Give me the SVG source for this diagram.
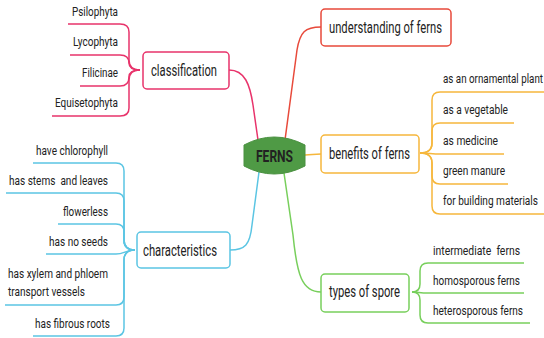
<svg xmlns="http://www.w3.org/2000/svg" width="544" height="338" viewBox="0 0 544 338">
<style>
text{font-family:Roboto,"Liberation Sans",sans-serif;fill:#222}
.n{font-size:16px;text-anchor:middle}
.l{font-size:13.5px}
.r{text-anchor:end}
.box{fill:#fff;stroke-width:1.5}
.c{fill:none;stroke-width:1.5}
.pk{stroke:#e8336b}.rd{stroke:#e84a3b}.or{stroke:#f6b73c}.bl{stroke:#5bc5e3}.gr{stroke:#78cf5c}
</style>
<rect width="544" height="338" fill="#fff"/>
<g id="connectors">
<path class="c pk" d="M229 70 C245 70 250 85 253 105 L258 140"/>
<path class="c rd" d="M285 140 L297 50 C300 32 305 27 321 27"/>
<path class="c or" d="M305 155 C312 155 313 154 321 154"/>
<path class="c bl" d="M230 250 C245 250 250 245 252 225 L259 172"/>
<path class="c gr" d="M284 173 L293 235 C297 275 302 292 321 292"/>
<path class="c pk" d="M140 70 Q129 70 129 60 V32 Q129 24 120 24 H68"/>
<path class="c pk" d="M140 70 Q129 70 129 63 Q129 55 120 55 H70"/>
<path class="c pk" d="M140 70 Q129 70 129 77 Q129 86 120 86 H80"/>
<path class="c pk" d="M140 70 Q129 70 129 80 V108 Q129 116 120 116 H52"/>
<path class="c or" d="M420 153 Q432 153 432 143 V100 Q432 92 440 92 H544"/>
<path class="c or" d="M420 153 Q432 153 432 143 V131 Q432 123 440 123 H514"/>
<path class="c or" d="M420 153 C428 153 432 154 440 154 H504"/>
<path class="c or" d="M420 153 Q432 153 432 163 V176 Q432 184 440 184 H508"/>
<path class="c or" d="M420 153 Q432 153 432 163 V206 Q432 214 440 214 H544"/>
<path class="c bl" d="M135 250 Q124 250 124 240 V171 Q124 163 116 163 H33"/>
<path class="c bl" d="M135 250 Q124 250 124 240 V201 Q124 193 116 193 H6"/>
<path class="c bl" d="M135 250 Q124 250 124 240 V232 Q124 224 116 224 H58"/>
<path class="c bl" d="M135 250 C126 250 124 254 116 254 H46"/>
<path class="c bl" d="M135 250 Q124 250 124 260 V297 Q124 305 116 305 H5"/>
<path class="c bl" d="M135 250 Q124 250 124 260 V328 Q124 336 116 336 H33"/>
<path class="c gr" d="M412 292 Q420 292 420 284 V271 Q420 263 428 263 H524"/>
<path class="c gr" d="M412 292 C418 292 420 293 428 293 H524"/>
<path class="c gr" d="M412 292 Q420 292 420 300 V315 Q420 323 428 323 H530"/>
</g>
<g id="ferns">
<path d="M244 145 Q274 129 305 145 L305 166 Q274 182 244 166 Z" fill="#4f9a45" stroke="#4a9140" stroke-width="1" stroke-linejoin="round"/>
<text x="274.5" y="162" class="n" style="font-weight:bold;font-size:17px" textLength="37" lengthAdjust="spacingAndGlyphs">FERNS</text>
</g>
<g id="classification">
<rect class="box pk" x="143" y="52" width="86" height="37" rx="4"/>
<text x="184" y="76" class="n" textLength="66" lengthAdjust="spacingAndGlyphs">classification</text>
</g>
<g id="understanding">
<rect class="box rd" x="321" y="9" width="130" height="37" rx="4"/>
<text x="385.5" y="33" class="n" textLength="113" lengthAdjust="spacingAndGlyphs">understanding of ferns</text>
</g>
<g id="benefits">
<rect class="box or" x="321" y="135" width="98" height="38" rx="4"/>
<text x="369.5" y="159" class="n" textLength="81" lengthAdjust="spacingAndGlyphs">benefits of ferns</text>
</g>
<g id="characteristics">
<rect class="box bl" x="137" y="232" width="93" height="36" rx="4"/>
<text x="180" y="256" class="n" textLength="74" lengthAdjust="spacingAndGlyphs">characteristics</text>
</g>
<g id="types">
<rect class="box gr" x="321" y="274" width="88" height="38" rx="4"/>
<text x="364.5" y="297" class="n" textLength="71" lengthAdjust="spacingAndGlyphs">types of spore</text>
</g>
<g id="psilophyta"><text x="118" y="16" class="l r" textLength="46" lengthAdjust="spacingAndGlyphs">Psilophyta</text></g>
<g id="lycophyta"><text x="118" y="46" class="l r" textLength="45" lengthAdjust="spacingAndGlyphs">Lycophyta</text></g>
<g id="filicinae"><text x="118" y="77" class="l r" textLength="36" lengthAdjust="spacingAndGlyphs">Filicinae</text></g>
<g id="equisetophyta"><text x="118" y="107" class="l r" textLength="63" lengthAdjust="spacingAndGlyphs">Equisetophyta</text></g>
<g id="ornamental"><text x="443" y="83" class="l" textLength="100" lengthAdjust="spacingAndGlyphs">as an ornamental plant</text></g>
<g id="vegetable"><text x="443" y="114" class="l" textLength="65" lengthAdjust="spacingAndGlyphs">as a vegetable</text></g>
<g id="medicine"><text x="443" y="145" class="l" textLength="55" lengthAdjust="spacingAndGlyphs">as medicine</text></g>
<g id="manure"><text x="443" y="175" class="l" textLength="62" lengthAdjust="spacingAndGlyphs">green manure</text></g>
<g id="building"><text x="443" y="205" class="l" textLength="95" lengthAdjust="spacingAndGlyphs">for building materials</text></g>
<g id="chlorophyll"><text x="108" y="155" class="l r" textLength="72" lengthAdjust="spacingAndGlyphs">have chlorophyll</text></g>
<g id="stems"><text x="108" y="185" class="l r" textLength="99" lengthAdjust="spacingAndGlyphs" xml:space="preserve">has stems  and leaves</text></g>
<g id="flowerless"><text x="108" y="216" class="l r" textLength="45" lengthAdjust="spacingAndGlyphs">flowerless</text></g>
<g id="seeds"><text x="108" y="246" class="l r" textLength="59" lengthAdjust="spacingAndGlyphs">has no seeds</text></g>
<g id="xylem">
<text x="8" y="278" class="l" textLength="100" lengthAdjust="spacingAndGlyphs">has xylem and phloem</text>
<text x="8" y="296" class="l" textLength="77" lengthAdjust="spacingAndGlyphs">transport vessels</text>
</g>
<g id="roots"><text x="110" y="328" class="l r" textLength="75" lengthAdjust="spacingAndGlyphs">has fibrous roots</text></g>
<g id="intermediate"><text x="433" y="255" class="l" textLength="87" lengthAdjust="spacingAndGlyphs" xml:space="preserve">intermediate  ferns</text></g>
<g id="homosporous"><text x="433" y="285" class="l" textLength="87" lengthAdjust="spacingAndGlyphs">homosporous ferns</text></g>
<g id="heterosporous"><text x="433" y="315" class="l" textLength="90" lengthAdjust="spacingAndGlyphs">heterosporous ferns</text></g>
</svg>
